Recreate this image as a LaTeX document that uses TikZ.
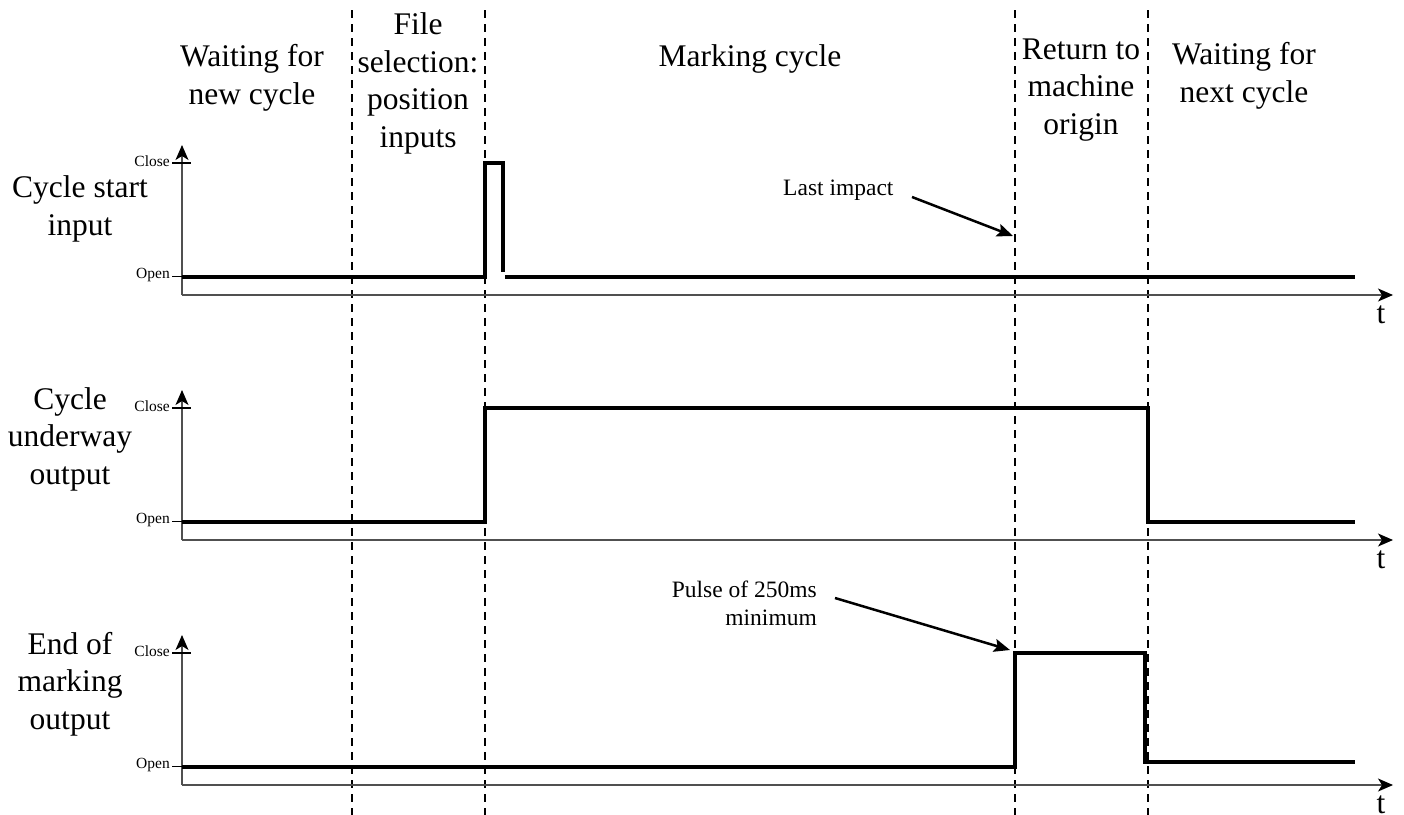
\documentclass[tikz,border=0pt]{standalone}
\usepackage{fontspec}
\setmainfont{Liberation Serif}
\usetikzlibrary{arrows.meta}
\definecolor{axisgray}{HTML}{505050}

\begin{document}
\begin{tikzpicture}[x=1pt,y=-1pt,
  signal/.style={line width=4pt, line join=miter},
  axis/.style={line width=1.3pt, draw=axisgray, -{Stealth[length=15pt,width=13pt,inset=4pt,black]}},
  tick/.style={line width=1.8pt},
  phase/.style={line width=1.9pt, dash pattern=on 8pt off 6pt},
  caption/.style={font=\fontsize{31.5}{37.5}\selectfont, align=center, anchor=base, inner sep=0pt},
  level/.style={font=\fontsize{15.5}{18}\selectfont, anchor=east, inner sep=0pt},
  note/.style={font=\fontsize{23.5}{28}\selectfont, inner sep=0pt},
  pointer/.style={line width=2.5pt, -{Stealth[length=16pt,width=13pt,inset=3pt]}},
]
\useasboundingbox (0,0) rectangle (1404,814);

% phase separators
\foreach \x/\n in {352/a,485/b,1015/c,1148/d}{
  \coordinate (top\n) at (\x,10);
  \coordinate (bot\n) at (\x,820);
  \draw[phase] (top\n) -- (bot\n);
}

% phase headings (placed by the baseline of their last line)
\node[caption] (ph1) at (252,104) {Waiting for\\new cycle};
\node[caption] (ph2) at (418,147) {File\\selection:\\position\\inputs};
\node[caption] (ph3) at (750,66) {Marking cycle};
\node[caption] (ph4) at (1081,134) {Return to\\machine\\origin};
\node[caption] (ph5) at (1244,102) {Waiting for\\next cycle};

% axes, levels and time labels for the three signals
\foreach \dy/\n in {0/1,245/2,490/3}{
  \coordinate (org\n) at (182,295+\dy);
  \coordinate (vtip\n) at (182,145+\dy);
  \coordinate (htip\n) at (1393,295+\dy);
  \coordinate (cl\n) at (172,163+\dy);
  \coordinate (cr\n) at (191,163+\dy);
  \coordinate (ol\n) at (172,276.5+\dy);
  \coordinate (or\n) at (182,276.5+\dy);
  \draw[axis] (org\n) -- (vtip\n);
  \draw[axis] (org\n) -- (htip\n);
  \draw[tick] (cl\n) -- (cr\n);
  \draw[tick] (ol\n) -- (or\n);
  \node[level] (close\n) at (170,161.5+\dy) {Close};
  \node[level] (open\n) at (170,275+\dy) {Open};
  \node[caption] (t\n) at (1381,323+\dy) {t};
}

% signal names
\node[caption] (sig1) at (80,235) {Cycle start\\input};
\node[caption] (sig2) at (70,484) {Cycle\\underway\\output};
\node[caption] (sig3) at (70,729) {End of\\marking\\output};

% cycle start input
\draw[signal] (or1) -- (485,276.5) -- (485,163) -- (503,163) -- (503,272);
\draw[signal] (505,276.5) -- (1355,276.5);

% cycle underway output
\draw[signal] (or2) -- (485,521.5) -- (485,408) -- (1148,408) -- (1148,521.5) -- (1355,521.5);

% end of marking output
\draw[signal] (or3) -- (1015,766.5) -- (1015,653) -- (1145,653) -- (1145,762) -- (1355,762);

% annotations
\node[note, anchor=base west] (last) at (783,195) {Last impact};
\coordinate (lastfrom) at (912,197);
\coordinate (lastto) at (1013,236);
\draw[pointer] (lastfrom) -- (lastto);

\node[note, align=right, anchor=base east] (pulse) at (817,625) {Pulse of 250ms\\minimum};
\coordinate (pulsefrom) at (835,598);
\coordinate (pulseto) at (1010,650);
\draw[pointer] (pulsefrom) -- (pulseto);
\end{tikzpicture}
\end{document}
